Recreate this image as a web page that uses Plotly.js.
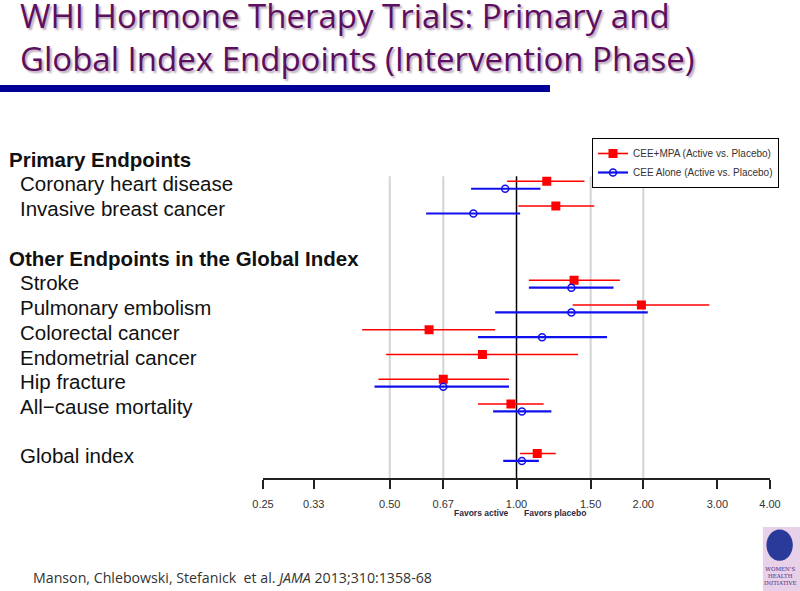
<!DOCTYPE html>
<html>
<head>
<meta charset="utf-8">
<script src="https://cdn.plot.ly/plotly-3.0.1.min.js"></script>
<style>
  html, body { margin: 0; padding: 0; background: #fff; }
  #chart { width: 800px; height: 591px; }
</style>
</head>
<body>
<div id="chart"></div>
<script>
document.addEventListener('DOMContentLoaded', function() {
    // Row labels, top to bottom (blank strings are spacer rows)
    var rowLabels = ['Primary Endpoints', 'Coronary heart disease', 'Invasive breast cancer', '',
      'Other Endpoints in the Global Index', 'Stroke', 'Pulmonary embolism', 'Colorectal cancer',
      'Endometrial cancer', 'Hip fracture', 'All\u2212cause mortality', '', 'Global index'];
    var headerRows = [0, 4];

    // Endpoints and the row each one sits on
    var endpoints = ['Coronary heart disease', 'Invasive breast cancer', 'Stroke', 'Pulmonary embolism',
      'Colorectal cancer', 'Endometrial cancer', 'Hip fracture', 'All\u2212cause mortality', 'Global index'];
    var endpointRow = [1, 2, 5, 6, 7, 8, 9, 10, 12];

    // CEE+MPA hazard ratios with 95% CI
    var mpaHR = [1.18, 1.24, 1.37, 1.98, 0.62, 0.83, 0.67, 0.97, 1.12];
    var mpaLo = [0.95, 1.01, 1.07, 1.36, 0.43, 0.49, 0.47, 0.81, 1.02];
    var mpaHi = [1.45, 1.53, 1.76, 2.87, 0.89, 1.40, 0.96, 1.16, 1.24];

    // CEE alone hazard ratios with 95% CI (no endometrial cancer result)
    var ceeHR = [0.94, 0.79, 1.35, 1.35, 1.15, null, 0.67, 1.03, 1.03];
    var ceeLo = [0.78, 0.61, 1.07, 0.89, 0.81, null, 0.46, 0.88, 0.93];
    var ceeHi = [1.14, 1.02, 1.70, 2.05, 1.64, null, 0.96, 1.21, 1.13];

    // x axis ticks
    var tickVals = [0.25, 0.33, 0.50, 0.67, 1.00, 1.50, 2.00, 3.00, 4.00];
    var tickText = tickVals.map(v => v.toFixed(2));
    var gridVals = [0.50, 0.67, 1.50, 2.00];

    var FONT = 'Liberation Sans, Arial, sans-serif';

    // build one series; nulls between points keep the legend line without joining points
    function series(name, hr, lo, hi, shift, color, symbol, msize, lw) {
      var x = [], y = [], plus = [], minus = [];
      hr.forEach(function(v, i) {
        if (v === null) return;
        x.push(v, null);
        y.push(endpointRow[i] + shift, null);
        plus.push(hi[i] - v, null);
        minus.push(v - lo[i], null);
      });
      return {
        type: 'scatter',
        mode: 'lines+markers',
        name: name,
        x: x,
        y: y,
        connectgaps: false,
        line: { color: color, width: lw },
        marker: { symbol: symbol, size: msize, color: color, line: { color: color, width: 1.5 } },
        error_x: { type: 'data', symmetric: false, array: plus, arrayminus: minus,
                   color: color, thickness: lw, width: 0 },
        hoverinfo: 'skip'
      };
    }

    var traces = [
      series('CEE+MPA (Active vs. Placebo)', mpaHR, mpaLo, mpaHi, -0.1, '#ff0000', 'square', 7.5, 1.6),
      series('CEE Alone (Active vs. Placebo)', ceeHR, ceeLo, ceeHi, 0.2, '#1010ee', 'circle-open', 7, 2.2)
    ];

    // reference lines (log axis: shape x given as data values)
    var shapes = gridVals.map(function(v) {
      return { type: 'line', layer: 'below', xref: 'x', yref: 'paper',
               x0: v, x1: v, y0: 0, y1: 0.893,
               line: { color: '#d4d4d4', width: 2 } };
    });
    shapes.push({ type: 'line', layer: 'below', xref: 'x', yref: 'paper',
                  x0: 1, x1: 1, y0: 0, y1: 0.893, line: { color: '#000', width: 1.5 } });
    // blue rule under the title
    shapes.push({ type: 'rect', xref: 'paper', yref: 'paper',
                  x0: -0.5187, x1: 0.566, y0: 1.142, y1: 1.163,
                  fillcolor: '#000099', line: { width: 0 } });
    // logo block
    shapes.push({ type: 'rect', xref: 'paper', yref: 'paper',
                  x0: 0.986, x1: 1.06, y0: -0.334, y1: -0.145,
                  fillcolor: '#e8d0e8', line: { width: 0 } });
    shapes.push({ type: 'circle', xref: 'paper', yref: 'paper',
                  x0: 0.993, x1: 1.045, y0: -0.245, y1: -0.152,
                  fillcolor: '#2a3a9a', line: { width: 0 } });

    var annotations = rowLabels.map(function(t, i) {
      var head = headerRows.indexOf(i) >= 0;
      return {
        text: head ? '<b>' + t + '</b>' : t,
        xref: 'paper', yref: 'y',
        x: head ? (7 - 263) / 507 : (17.5 - 263) / 507,
        y: i, xanchor: 'left', yanchor: 'middle', showarrow: false,
        font: { family: FONT, size: 20.5, color: '#111' }
      };
    }).filter(a => a.text !== '');

    annotations.push(
      { text: 'WHI Hormone Therapy Trials: Primary and<br>Global Index Endpoints (Intervention Phase)',
        xref: 'paper', yref: 'paper', align: 'left',
        x: (18 - 263) / 507, y: (478 - 37) / 338, xanchor: 'left', yanchor: 'middle', showarrow: false,
        font: { family: 'Open Sans, sans-serif', size: 33, color: '#5d0f5f', shadow: '2px 2px 2px rgba(60,0,60,0.35)' } },
      { text: '<b>Favors active</b>', xref: 'paper', yref: 'paper',
        x: (511 - 263) / 507, y: -0.1036, xanchor: 'right', yanchor: 'middle', showarrow: false,
        font: { family: FONT, size: 8.5, color: '#2b2b45' } },
      { text: '<b>Favors placebo</b>', xref: 'paper', yref: 'paper',
        x: (522 - 263) / 507, y: -0.1036, xanchor: 'left', yanchor: 'middle', showarrow: false,
        font: { family: FONT, size: 8.5, color: '#2b2b45' } },
      { text: 'Manson, Chlebowski, Stefanick  et al. <i>JAMA</i> 2013;310:1358-68', xref: 'paper', yref: 'paper',
        x: (31 - 263) / 507, y: -0.293, xanchor: 'left', yanchor: 'middle', showarrow: false,
        font: { family: 'Open Sans, sans-serif', size: 14.2, color: '#333' } },
      { text: "WOMEN'S<br>HEALTH<br>INITIATIVE", xref: 'paper', yref: 'paper',
        x: 1.02, y: -0.29, xanchor: 'center', yanchor: 'middle', showarrow: false,
        font: { family: 'DejaVu Serif, serif', size: 5.5, color: '#4a2a7a' } }
    );

    var layout = {
      width: 800,
      height: 591,
      margin: { l: 263, r: 30, t: 140, b: 113 },
      paper_bgcolor: '#fff',
      plot_bgcolor: '#fff',
      showlegend: true,
      legend: {
        x: (592 - 263) / 507, y: (478 - 138) / 338, xanchor: 'left', yanchor: 'top',
        bordercolor: '#000', borderwidth: 1, bgcolor: '#fff',
        font: { family: FONT, size: 10, color: '#333' }, tracegroupgap: 0
      },
      xaxis: {
        type: 'log',
        range: [Math.log10(0.25), Math.log10(4)],
        tickvals: tickVals,
        ticktext: tickText,
        ticks: 'outside', ticklen: 9, tickwidth: 1.5, tickcolor: '#222',
        showline: true, linecolor: '#222', linewidth: 1.5,
        showgrid: false, zeroline: false,
        ticklabelstandoff: 6,
        tickfont: { family: FONT, size: 11, color: '#333' },
        fixedrange: true
      },
      yaxis: {
        range: [12.89, -0.77],
        visible: false, showgrid: false, zeroline: false, fixedrange: true
      },
      shapes: shapes,
      annotations: annotations
    };

    var config = { responsive: false, displayModeBar: false, displaylogo: false };
    Plotly.newPlot('chart', traces, layout, config);
});
</script>
</body>
</html>
